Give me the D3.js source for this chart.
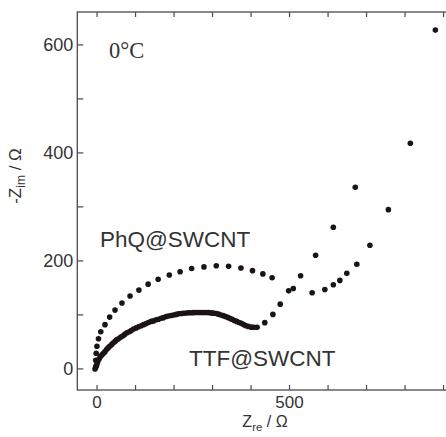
<!DOCTYPE html>
<html>
<head>
<meta charset="utf-8">
<script src="https://cdn.jsdelivr.net/npm/d3@7"></script>
<style>
  html, body { margin: 0; padding: 0; background: #fff; }
  svg { display: block; }
</style>
</head>
<body>
<svg id="chart" width="446" height="437"></svg>
<script>
// Nyquist plot at 0 °C: real vs. negative imaginary impedance (Ω)
const phqRe = [-2, -2, -1, 1, 5, 11, 22, 34, 48, 66, 87, 110, 134, 160, 189, 217, 247, 279, 311, 343, 375, 405, 432, 456, 560, 593, 615, 632, 650, 676, 710, 758, 815];
const phqIm = [3, 15, 28, 41, 55, 68, 81, 95, 108, 121, 134, 145, 156, 165, 173, 179, 185, 188, 190, 189, 186, 181, 175, 168, 140, 146, 155, 163, 176, 193, 228, 294, 417];

const ttfRe = [-4, -2, 0, 2, 4, 7, 10, 14, 18, 22, 26, 30, 34, 39, 43, 48, 52, 57, 63, 68, 73, 79, 85, 90, 96, 103, 109, 116, 122, 129, 135, 142, 148, 155, 161, 168, 174, 181, 187, 194, 200, 207, 213, 220, 226, 233, 239, 246, 252, 259, 265, 272, 278, 285, 291, 298, 304, 311, 317, 323, 329, 335, 341, 347, 352, 358, 364, 370, 376, 382, 387, 394, 402, 409, 417, 437, 458, 477, 499, 511, 530, 569, 615, 672, 880];
const ttfIm = [-1, 2, 6, 10, 14, 18, 22, 25, 28, 31, 35, 38, 41, 44, 47, 50, 53, 55, 58, 60, 63, 66, 68, 70, 73, 75, 77, 79, 81, 83, 85, 87, 88, 90, 91, 93, 94, 96, 97, 98, 99, 100, 101, 101.5, 102, 102.5, 103, 103, 103.2, 103.4, 103.6, 103.6, 103.6, 103.4, 103.2, 102.8, 102.3, 101.5, 100.5, 99, 97.7, 96, 94.4, 92.5, 90.7, 88.8, 87, 85, 83.3, 81.2, 79.3, 77.8, 76.4, 76, 76, 84.7, 100, 119, 143.6, 148, 171.7, 209.6, 261.4, 335.6, 626.5];

const xTicks = [0, 100, 200, 300, 400, 500, 600, 700, 800, 900];
const xLabelled = [0, 500];
const yTicks = [0, 100, 200, 300, 400, 500, 600];
const yLabelled = [0, 200, 400, 600];

const svg = d3.select("#chart");
const plotLeft = 77.3, plotRight = 462.3, plotTop = 12, plotBottom = 390;

const x = d3.scaleLinear().domain([-50, 950]).range([plotLeft, plotRight]);
const y = d3.scaleLinear().domain([-40, 660]).range([plotBottom, plotTop]);

const frameColor = "#4a4a4a";
const textColor = "#333";
const sans = "'Liberation Sans', Arial, sans-serif";

// plot frame
svg.append("rect")
  .attr("x", plotLeft).attr("y", plotTop)
  .attr("width", plotRight - plotLeft).attr("height", plotBottom - plotTop)
  .attr("fill", "none").attr("stroke", frameColor).attr("stroke-width", 1.3);

function styleAxis(g, size) {
  g.select(".domain").remove();
  g.selectAll(".tick line").attr("stroke", frameColor).attr("stroke-width", 1.2);
  g.selectAll(".tick text").attr("fill", textColor)
    .style("font-family", sans).style("font-size", size);
}

// bottom axis, inward ticks
svg.append("g").attr("transform", `translate(0,${plotBottom})`)
  .call(d3.axisBottom(x).tickValues(xTicks).tickSize(-5).tickPadding(6)
    .tickFormat(d => xLabelled.includes(d) ? d : ""))
  .call(styleAxis, "17px");

// top ticks
svg.append("g").attr("transform", `translate(0,${plotTop})`)
  .call(d3.axisTop(x).tickValues(xTicks).tickSize(-5).tickFormat(""))
  .call(styleAxis, "17px");

// left axis, inward ticks
svg.append("g").attr("transform", `translate(${plotLeft},0)`)
  .call(d3.axisLeft(y).tickValues(yTicks).tickSize(-6).tickPadding(4)
    .tickFormat(d => yLabelled.includes(d) ? d : ""))
  .call(styleAxis, "18px");

// data points
const r = 2.8, dotColor = "#1c1414";
svg.append("g").selectAll("circle.phq")
  .data(d3.zip(phqRe, phqIm)).join("circle")
  .attr("class", "phq")
  .attr("cx", d => x(d[0])).attr("cy", d => y(d[1])).attr("r", r)
  .attr("fill", dotColor);

svg.append("g").selectAll("circle.ttf")
  .data(d3.zip(ttfRe, ttfIm)).join("circle")
  .attr("class", "ttf")
  .attr("cx", d => x(d[0])).attr("cy", d => y(d[1])).attr("r", r)
  .attr("fill", dotColor);

// labels inside the plot
svg.append("text").attr("x", 109).attr("y", 58)
  .attr("fill", textColor)
  .style("font-family", "'Liberation Serif', 'Times New Roman', serif")
  .style("font-size", "22.5px").text("0°C");

svg.append("text").attr("x", 100).attr("y", 247)
  .attr("fill", textColor).style("font-family", sans).style("font-size", "22.5px")
  .text("PhQ@SWCNT");

svg.append("text").attr("x", 189).attr("y", 366)
  .attr("fill", textColor).style("font-family", sans).style("font-size", "22.5px")
  .text("TTF@SWCNT");

// axis titles
const xt = svg.append("text").attr("x", 265).attr("y", 427)
  .attr("text-anchor", "middle").attr("fill", textColor)
  .style("font-family", sans).style("font-size", "16px");
xt.append("tspan").text("Z");
xt.append("tspan").attr("dy", 4).style("font-size", "11.5px").text("re");
xt.append("tspan").attr("dy", -4).text(" / Ω");

const yt = svg.append("text")
  .attr("transform", "translate(21,176) rotate(-90)")
  .attr("text-anchor", "middle").attr("fill", textColor)
  .style("font-family", sans).style("font-size", "17px");
yt.append("tspan").text("-Z");
yt.append("tspan").attr("dy", 4).style("font-size", "12px").text("im");
yt.append("tspan").attr("dy", -4).text(" / Ω");
</script>
</body>
</html>
